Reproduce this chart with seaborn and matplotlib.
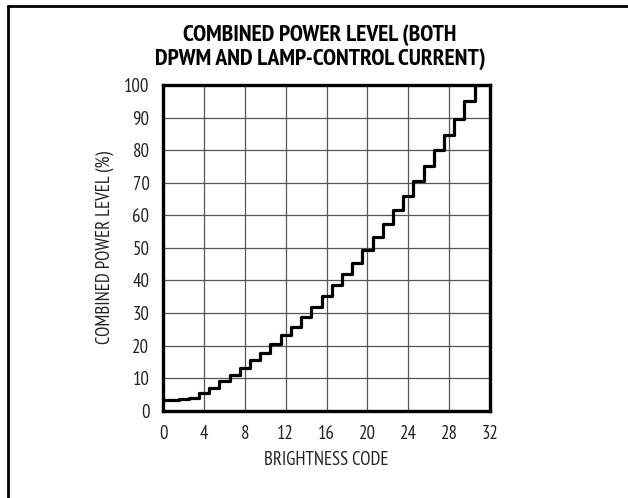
import matplotlib
matplotlib.use("Agg")
import matplotlib.pyplot as plt
import seaborn as sns
import pandas as pd
from matplotlib.lines import Line2D

codes = list(range(32))
power = [3.3, 3.4, 3.5, 4.0, 5.5, 7.0, 9.0, 11.0, 13.2, 15.5, 17.8, 20.5,
         23.1, 25.8, 28.7, 31.8, 35.1, 38.5, 41.9, 45.5, 49.4, 53.2, 57.3,
         61.5, 66.0, 70.5, 75.1, 79.9, 84.8, 89.7, 95.1, 100.0]
xticks = [0, 4, 8, 12, 16, 20, 24, 28, 32]
yticks = [0, 10, 20, 30, 40, 50, 60, 70, 80, 90, 100]
title = "COMBINED POWER LEVEL (BOTH\nDPWM AND LAMP-CONTROL CURRENT)"
xlabel = "BRIGHTNESS CODE"
ylabel = "COMBINED POWER LEVEL (%)"

sns.set_theme(style="white")
plt.rcParams["font.family"] = ["PT Sans Narrow", "Liberation Sans", "DejaVu Sans"]

df = pd.DataFrame({"code": codes, "power": power})

fig = plt.figure(figsize=(6.28, 4.98), dpi=100)
ax = fig.add_axes([163.3 / 628, 1 - 410.7 / 498, (490 - 163.3) / 628, (410.7 - 85) / 498])

sns.lineplot(data=df, x="code", y="power", ax=ax, color="black",
             linewidth=2.3, drawstyle="steps-mid", zorder=3)

ax.set_xlim(0, 32)
ax.set_ylim(0, 100)
ax.set_xticks(xticks)
ax.set_yticks(yticks)
ax.set_xticklabels([str(t) for t in xticks], fontsize=13.5)
ax.set_yticklabels([str(t) for t in yticks], fontsize=13.5)
ax.tick_params(axis="x", length=0, pad=10, colors="#222222")
ax.tick_params(axis="y", length=0, pad=10, colors="#222222")
ax.grid(True, color="#555555", linewidth=0.9)
for s in ax.spines.values():
    s.set_visible(True)
    s.set_color("black")
    s.set_linewidth(2.4)
ax.set_xlabel(xlabel, fontsize=13.5, labelpad=6, color="#222222")
ax.set_ylabel(ylabel, fontsize=13.5, labelpad=7, color="#222222")

fig.text(320 / 628, 1 - 47 / 498, title, ha="center", va="center",
         fontsize=17, fontweight="bold", linespacing=1.1, color="black")

# outer frame (top and left only)
fig.add_artist(Line2D([8 / 628, 8 / 628], [0, 1 - 6 / 498], transform=fig.transFigure,
                      color="black", linewidth=2))
fig.add_artist(Line2D([8 / 628, 1], [1 - 6 / 498, 1 - 6 / 498], transform=fig.transFigure,
                      color="black", linewidth=2))

fig.savefig("out.png", dpi=100, facecolor="white")
